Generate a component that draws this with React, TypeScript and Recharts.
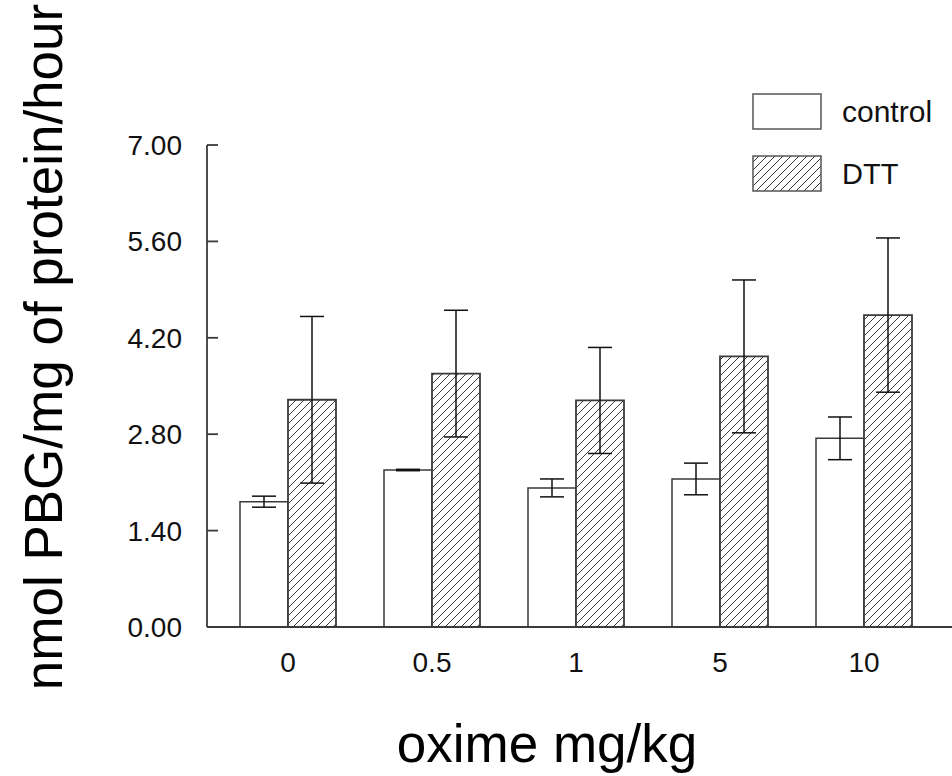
import React from 'react';
import { BarChart, Bar, XAxis, YAxis, ErrorBar, Legend } from 'recharts';

// PBG formation by oxime dose, with and without DTT (mean ± error)
const doses = ['0', '0.5', '1', '5', '10'];
const controlMean = [1.82, 2.28, 2.02, 2.15, 2.74];
const controlErr = [0.08, 0.01, 0.13, 0.23, 0.31];
const dttMean = [3.3, 3.68, 3.29, 3.93, 4.53];
const dttErr = [1.21, 0.92, 0.77, 1.11, 1.12];
const yTicks = [0, 1.4, 2.8, 4.2, 5.6, 7];

const rows = doses.map((dose, i) => ({
    dose,
    control: controlMean[i],
    controlErr: controlErr[i],
    dtt: dttMean[i],
    dttErr: dttErr[i],
}));

const FONT = '"Liberation Sans", Arial, Helvetica, sans-serif';
const AXIS = '#3a3a3a';
const EDGE = '#3a3a3a';

function Hatch({ id }: { id: string }) {
    return (
        <pattern id={id} patternUnits="userSpaceOnUse" width={8} height={8}>
            <rect width={8} height={8} fill="#fff" />
            <path d="M0,8 L8,0 M-2,2 L2,-2 M6,10 L10,6" stroke="#222" strokeWidth={0.9} />
        </pattern>
    );
}

function LegendBox() {
    const item = (label: string, fill: string, fontSize: number) => (
        <div style={{ display: 'flex', alignItems: 'center', height: 36, marginBottom: 26 }}>
            <svg width={70} height={38} style={{ display: 'block' }}>
                <defs>
                    <Hatch id="legendHatch" />
                </defs>
                <rect x={1} y={1} width={68} height={35} fill={fill} stroke="#555" strokeWidth={1.5} />
            </svg>
            <span style={{ marginLeft: 20, fontSize, fontFamily: FONT, color: '#111', lineHeight: 1 }}>{label}</span>
        </div>
    );
    return (
        <div>
            {item('control', '#fff', 30)}
            {item('DTT', 'url(#legendHatch)', 29)}
        </div>
    );
}

export default function App() {
    return (
        <div style={{ position: 'absolute', left: 0, top: 0, width: 952, height: 776, background: '#fff' }}>
            <BarChart
                width={952}
                height={776}
                data={rows}
                margin={{ top: 145, right: 0, bottom: 89, left: 0 }}
                barGap={0}
                barSize={48}
            >
                <defs>
                    <Hatch id="dttHatch" />
                </defs>
                <XAxis
                    dataKey="dose"
                    height={60}
                    padding={{ left: 9, right: 16 }}
                    axisLine={{ stroke: AXIS, strokeWidth: 1.8 }}
                    tickLine={false}
                    tickSize={6}
                    tickMargin={19}
                    tick={{ fill: '#111', fontSize: 28, fontFamily: FONT }}
                    label={() => (
                        <text x={547} y={762} textAnchor="middle" fontSize={53} fontFamily={FONT} fill="#000">
                            oxime mg/kg
                        </text>
                    )}
                />
                <YAxis
                    width={207}
                    domain={[0, 7]}
                    ticks={yTicks}
                    interval={0}
                    tickFormatter={(v: number) => v.toFixed(2)}
                    axisLine={{ stroke: AXIS, strokeWidth: 1.8 }}
                    tickLine={{ stroke: AXIS, strokeWidth: 1.8 }}
                    tickSize={-11}
                    tickMargin={36}
                    tick={{ fill: '#111', fontSize: 28, fontFamily: FONT }}
                    label={() => (
                        <text
                            x={43}
                            y={347}
                            transform="rotate(-90, 43, 347)"
                            textAnchor="middle"
                            dominantBaseline="central"
                            fontSize={53}
                            fontFamily={FONT}
                            fill="#000"
                        >
                            nmol PBG/mg of protein/hour
                        </text>
                    )}
                />
                {/* vertical + centered so the legend reserves no space in the plot */}
                <Legend
                    layout="vertical"
                    verticalAlign="middle"
                    align="center"
                    wrapperStyle={{ left: 752, top: 94, width: 200 }}
                    content={() => <LegendBox />}
                />
                {/* ErrorBar width is the half-width of the cap */}
                <Bar dataKey="control" name="control" fill="#fff" stroke={EDGE} strokeWidth={1.5} isAnimationActive={false}>
                    <ErrorBar dataKey="controlErr" width={12} stroke="#111" strokeWidth={1.5} />
                </Bar>
                <Bar dataKey="dtt" name="DTT" fill="url(#dttHatch)" stroke={EDGE} strokeWidth={1.8} isAnimationActive={false}>
                    <ErrorBar dataKey="dttErr" width={12} stroke="#111" strokeWidth={1.5} />
                </Bar>
            </BarChart>
        </div>
    );
}
